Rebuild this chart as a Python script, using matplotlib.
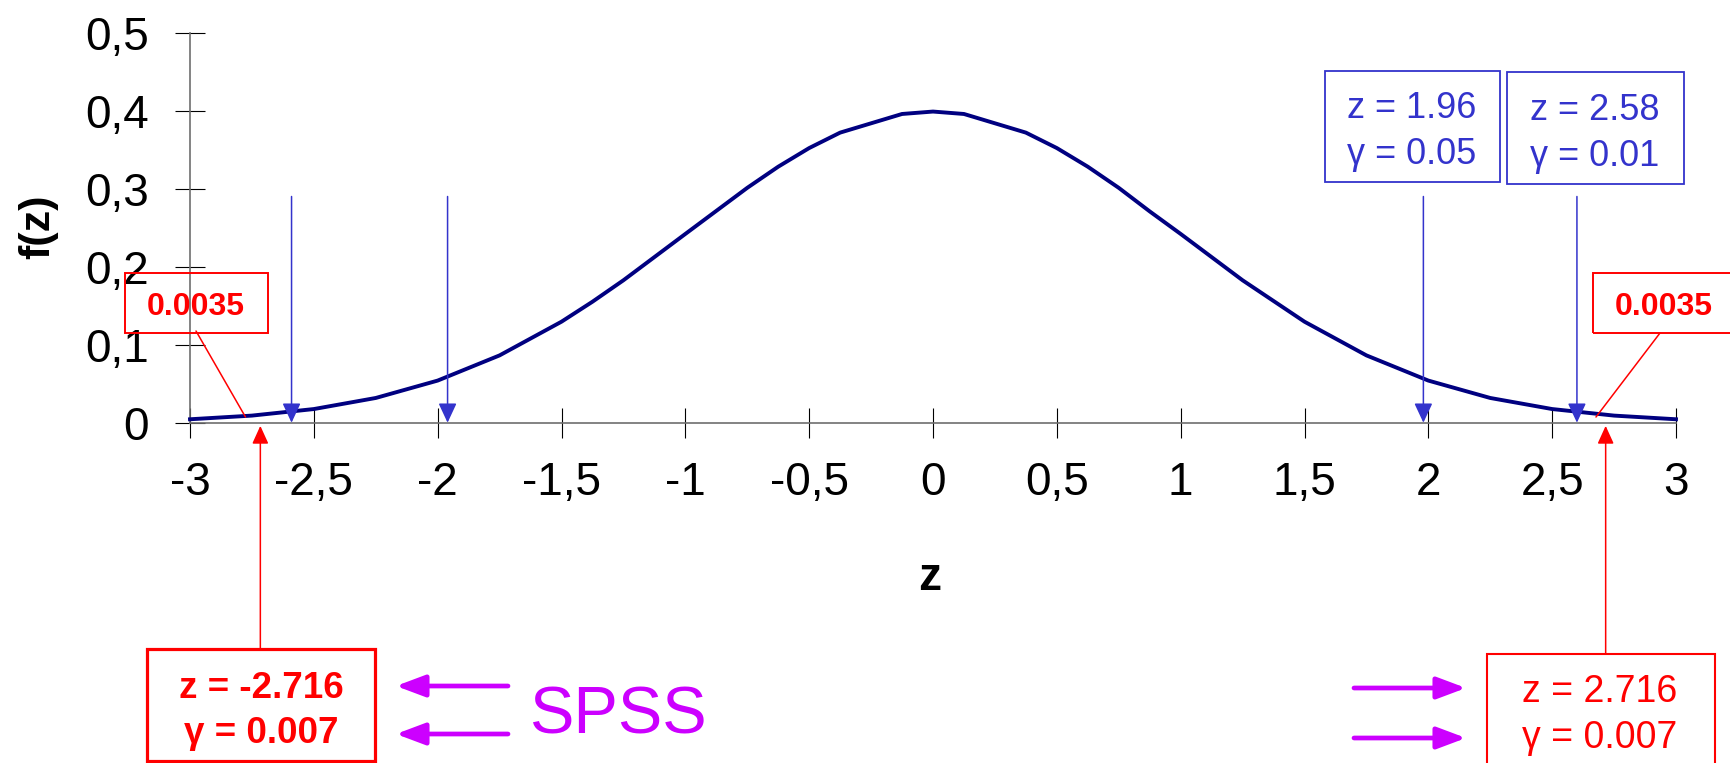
import matplotlib

matplotlib.use("Agg")
import matplotlib.pyplot as plt
from matplotlib.patches import Rectangle

plt.rcParams["font.family"] = ["Liberation Sans", "DejaVu Sans"]

# density curve
z_pts = [-3, -2.75, -2.5, -2.25, -2, -1.75, -1.5, -1.375, -1.25, -1, -0.75,
         -0.625, -0.5, -0.375, -0.125, 0, 0.125, 0.375, 0.5, 0.625, 0.75,
         0.875, 1, 1.25, 1.5, 1.75, 2, 2.25, 2.5, 2.75, 3]
f_pts = [0.0044, 0.0091, 0.0175, 0.0317, 0.054, 0.0863, 0.1295, 0.1551,
         0.1826, 0.242, 0.3011, 0.3282, 0.3521, 0.3719, 0.3958, 0.3989,
         0.3958, 0.3719, 0.3521, 0.3282, 0.3011, 0.2709, 0.242, 0.1826,
         0.1295, 0.0863, 0.054, 0.0317, 0.0175, 0.0091, 0.0044]

x_ticks = [-3, -2.5, -2, -1.5, -1, -0.5, 0, 0.5, 1, 1.5, 2, 2.5, 3]
x_tick_labels = ["-3", "-2,5", "-2", "-1,5", "-1", "-0,5", "0", "0,5", "1",
                 "1,5", "2", "2,5", "3"]
y_ticks = [0, 0.1, 0.2, 0.3, 0.4, 0.5]
y_tick_labels = ["0", "0,1", "0,2", "0,3", "0,4", "0,5"]

blue_z = [-2.59, -1.96, 1.98, 2.6]          # critical values (arrows)
spss_z = [-2.716, 2.716]                    # SPSS values (red arrows)
tail_pts = [(-2.776, 0.0073), (2.677, 0.0073)]  # where "0.0035" points

BLUE, RED, MAG, NAVY = "#3333CC", "#FF0000", "#CC00FF", "#000080"

W, H = 1731, 763
fig = plt.figure(figsize=(W / 100, H / 100), dpi=100)
ax = fig.add_axes([190 / W, 1 - 422.7 / H, (1676 - 190) / W, 390 / H])


def fx(x):
    return x / W


def fy(y):
    return 1 - y / H


def box(x0, y0, x1, y1, color, lw):
    fig.add_artist(Rectangle((fx(x0), fy(y1)), fx(x1) - fx(x0), fy(y0) - fy(y1),
                             transform=fig.transFigure, fill=False, ec=color,
                             lw=lw, clip_on=False))


def label(x, y, s, color, size, bold=False):
    fig.text(fx(x), fy(y), s, ha="center", va="baseline", color=color,
             fontsize=size, fontweight="bold" if bold else "normal")


ax.plot(z_pts, f_pts, color=NAVY, lw=2.8, clip_on=False, zorder=3)
ax.set_xlim(-3, 3)
ax.set_ylim(0, 0.5)
ax.set_xticks(x_ticks)
ax.set_xticklabels(x_tick_labels)
ax.set_yticks(y_ticks)
ax.set_yticklabels(y_tick_labels)
for s in ("top", "right"):
    ax.spines[s].set_visible(False)
for s in ("left", "bottom"):
    ax.spines[s].set_color("#6e6e6e")
    ax.spines[s].set_linewidth(1.2)
ax.tick_params(direction="inout", length=21.6, width=0.8, labelsize=33)
ax.tick_params(axis="x", pad=17)
ax.tick_params(axis="y", pad=19)

fig.text(fx(38), fy(227), "f(z)", rotation=90, ha="center", va="center",
         fontsize=31, fontweight="bold")
fig.text(fx(930), fy(578), "z", ha="center", va="center", fontsize=33,
         fontweight="bold")

# blue critical-value arrows
for zc in blue_z:
    ax.annotate("", xy=(zc, 0), xytext=(zc, 0.29),
                arrowprops=dict(arrowstyle="-|>,head_length=0.6,head_width=0.28",
                                color=BLUE, lw=1.1, shrinkA=0, shrinkB=0,
                                mutation_scale=20),
                annotation_clip=False, zorder=4)

# red SPSS arrows from the boxes below
for zc, y0 in zip(spss_z, [-0.290, -0.2965]):
    ax.annotate("", xy=(zc, -0.004), xytext=(zc, y0),
                arrowprops=dict(arrowstyle="-|>,head_length=0.55,head_width=0.25",
                                color=RED, lw=1.1, shrinkA=0, shrinkB=0,
                                mutation_scale=20),
                annotation_clip=False, zorder=4)

# "0.0035" pointers
for (zt, ft), (px, py) in zip(tail_pts, [(196, 331), (1660, 333)]):
    ax.annotate("", xy=(zt, ft), xytext=(px, H - py), textcoords="figure pixels",
                arrowprops=dict(arrowstyle="-", color=RED, lw=1.1,
                                shrinkA=0, shrinkB=0),
                annotation_clip=False, zorder=4)

# boxes
box(1325, 71, 1500, 182, BLUE, 1.3)
box(1507, 72, 1684, 184, BLUE, 1.3)
label(1412, 118, "z = 1.96", BLUE, 26)
label(1412, 164, "γ = 0.05", BLUE, 26)
label(1595, 120, "z = 2.58", BLUE, 26)
label(1595, 166, "γ = 0.01", BLUE, 26)

box(125, 273, 268, 333, RED, 1.4)
box(1593, 273, 1745, 333, RED, 1.4)
label(196, 315, "0.0035", RED, 23, bold=True)
label(1664, 315, "0.0035", RED, 23, bold=True)

box(147, 649, 375, 761, RED, 2.3)
box(1487, 654, 1715, 775, RED, 1.5)
label(261, 698, "z = -2.716", RED, 26.5, bold=True)
label(261, 743, "γ = 0.007", RED, 26.5, bold=True)
label(1600, 702, "z = 2.716", RED, 27)
label(1600, 748, "γ = 0.007", RED, 27)

# SPSS arrows and label
for (x0, x1, y) in [(508, 396, 686), (508, 396, 734),
                    (1354, 1466, 688), (1354, 1466, 738)]:
    ax.annotate("", xy=(x1, H - y), xycoords="figure pixels",
                xytext=(x0, H - y), textcoords="figure pixels",
                arrowprops=dict(arrowstyle="-|>,head_length=0.8,head_width=0.3",
                                color=MAG, lw=3.4, shrinkA=0, shrinkB=0,
                                mutation_scale=22))
label(618, 734, "SPSS", MAG, 48)

fig.savefig("out.png", dpi=100)
